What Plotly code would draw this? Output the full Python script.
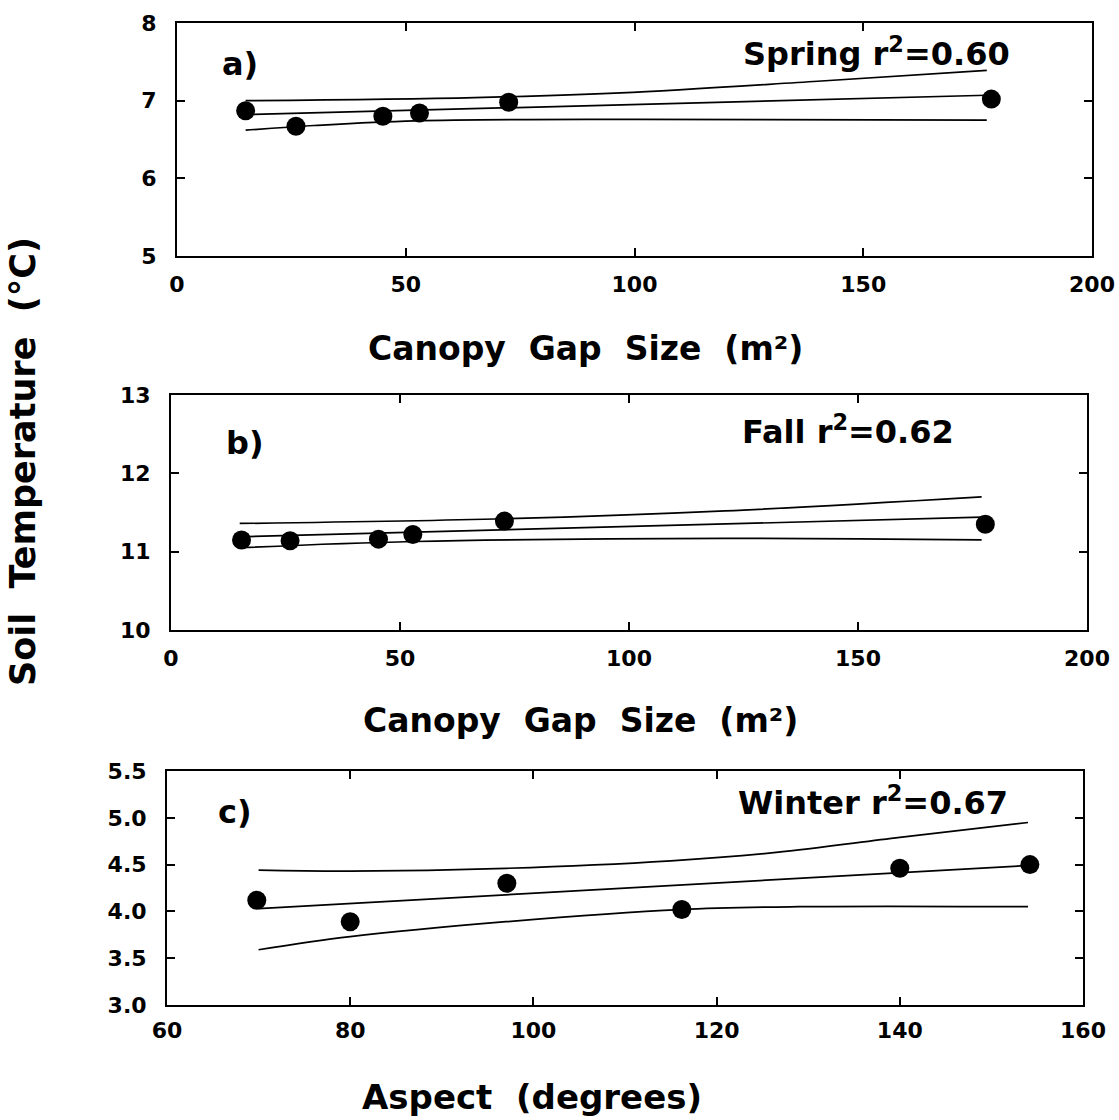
import plotly.graph_objects as go

# ---------------- data ----------------
spring_gap = [15, 26, 45, 53, 72.5, 178]
spring_temp = [6.87, 6.67, 6.80, 6.84, 6.98, 7.02]
spring_fit_x = [15, 177]
spring_fit_y = [6.82, 7.07]
spring_up_x = [15, 65, 97, 140, 177]
spring_up_y = [7.00, 7.04, 7.10, 7.25, 7.39]
spring_lo_x = [15, 30, 52, 100, 177]
spring_lo_y = [6.62, 6.68, 6.74, 6.76, 6.75]

fall_gap = [15.4, 26, 45.3, 52.8, 72.8, 177.8]
fall_temp = [11.15, 11.14, 11.16, 11.22, 11.39, 11.35]
fall_fit_x = [15, 177]
fall_fit_y = [11.19, 11.44]
fall_up_x = [15, 73, 121, 177]
fall_up_y = [11.36, 11.42, 11.52, 11.70]
fall_lo_x = [15, 53, 121, 177]
fall_lo_y = [11.05, 11.13, 11.17, 11.15]

aspect = [69.8, 80, 97.1, 116.2, 140, 154.2]
winter_temp = [4.12, 3.89, 4.30, 4.02, 4.46, 4.50]
winter_fit_x = [70, 154]
winter_fit_y = [4.03, 4.49]
winter_up_x = [70, 80, 97, 115, 126.5, 140, 154]
winter_up_y = [4.44, 4.43, 4.46, 4.54, 4.63, 4.79, 4.95]
winter_lo_x = [70, 80, 97, 116, 129, 154]
winter_lo_y = [3.59, 3.73, 3.89, 4.02, 4.05, 4.05]

gap_ticks = [0, 50, 100, 150, 200]
spring_yticks = [5, 6, 7, 8]
fall_yticks = [10, 11, 12, 13]
aspect_ticks = [60, 80, 100, 120, 140, 160]
winter_yticks = [3.0, 3.5, 4.0, 4.5, 5.0, 5.5]

FONT = "DejaVu Sans"
W, H = 1119, 1120

fig = go.Figure()

def add_panel(xa, ya, px, py, fx, fy, ux, uy, lx, ly):
    for xs, ys, shape in [(fx, fy, "linear"), (ux, uy, "spline"), (lx, ly, "spline")]:
        fig.add_trace(go.Scatter(x=xs, y=ys, mode="lines", xaxis=xa, yaxis=ya,
                                 line=dict(color="black", width=1.7, shape=shape),
                                 showlegend=False, hoverinfo="skip"))
    fig.add_trace(go.Scatter(x=px, y=py, mode="markers", xaxis=xa, yaxis=ya,
                             marker=dict(color="black", size=19),
                             showlegend=False))

add_panel("x", "y", spring_gap, spring_temp, spring_fit_x, spring_fit_y,
          spring_up_x, spring_up_y, spring_lo_x, spring_lo_y)
add_panel("x2", "y2", fall_gap, fall_temp, fall_fit_x, fall_fit_y,
          fall_up_x, fall_up_y, fall_lo_x, fall_lo_y)
add_panel("x3", "y3", aspect, winter_temp, winter_fit_x, winter_fit_y,
          winter_up_x, winter_up_y, winter_lo_x, winter_lo_y)

tickfont = dict(family=FONT, size=22, color="black", weight="bold")

def axis_common(**kw):
    d = dict(showline=True, linecolor="black", linewidth=2, mirror="ticks",
             ticks="inside", ticklen=8, tickwidth=1.5, tickcolor="black",
             showgrid=False, zeroline=False, tickfont=tickfont, automargin=False,
             ticklabeloverflow="allow")
    d.update(kw)
    return d

def px_x(a, b):
    return [a / W, b / W]

def px_y(top, bottom):
    return [1 - bottom / H, 1 - top / H]

fig.update_layout(
    template="none",
    width=W, height=H, autosize=False,
    margin=dict(l=0, r=0, t=0, b=0, pad=0),
    paper_bgcolor="white", plot_bgcolor="white",
    xaxis=axis_common(domain=px_x(177, 1092), range=[0, 200], tickvals=gap_ticks,
                      anchor="y", ticklabelstandoff=8),
    yaxis=axis_common(domain=px_y(23, 256), range=[5, 8], tickvals=spring_yticks,
                      anchor="x", ticklabelstandoff=14),
    xaxis2=axis_common(domain=px_x(171, 1087), range=[0, 200], tickvals=gap_ticks,
                       anchor="y2", ticklabelstandoff=8),
    yaxis2=axis_common(domain=px_y(395, 630), range=[10, 13], tickvals=fall_yticks,
                       anchor="x2", ticklabelstandoff=14),
    xaxis3=axis_common(domain=px_x(167, 1083), range=[60, 160], tickvals=aspect_ticks,
                       anchor="y3", ticklabelstandoff=5),
    yaxis3=axis_common(domain=px_y(771, 1005), range=[3.0, 5.5], tickvals=winter_yticks,
                       tickformat=".1f", anchor="x3", ticklabelstandoff=14),
)

big = dict(family=FONT, size=32, color="black", weight="bold")
ann = []
def add_ann(**kw):
    d = dict(showarrow=False, xanchor="center", yanchor="middle")
    d.update(kw)
    ann.append(d)

add_ann(text="a)", x=13.7, y=7.47, xref="x", yref="y", font=big)
add_ann(text="Spring r<sup>2</sup>=0.60", x=182.5, y=7.63, xref="x", yref="y",
        xanchor="right", font=big)
add_ann(text="b)", x=16.2, y=12.39, xref="x2", yref="y2", font=big)
add_ann(text="Fall r<sup>2</sup>=0.62", x=171.3, y=12.55, xref="x2", yref="y2",
        xanchor="right", font=big)
add_ann(text="c)", x=67.4, y=5.06, xref="x3", yref="y3", font=big)
add_ann(text="Winter r<sup>2</sup>=0.67", x=152, y=5.18, xref="x3", yref="y3",
        xanchor="right", font=big)

sp = "\u00a0"
gap_title = f"Canopy{sp}{sp}Gap{sp}{sp}Size{sp}{sp}(m\u00b2)"
gap_font = dict(family=FONT, size=33, color="black", weight="bold")
add_ann(text=gap_title, x=585 / W, y=1 - 348 / H, xref="paper", yref="paper", font=gap_font)
add_ann(text=gap_title, x=580 / W, y=1 - 720 / H, xref="paper", yref="paper", font=gap_font)
add_ann(text=f"Aspect{sp}{sp}(degrees)", x=532 / W, y=1 - 1097 / H,
        xref="paper", yref="paper", font=dict(family=FONT, size=34, color="black", weight="bold"))
add_ann(text=f"Soil{sp}{sp}Temperature{sp}{sp}(\u00b0C)", x=23 / W, y=1 - 462 / H,
        xref="paper", yref="paper", textangle=-90,
        font=dict(family=FONT, size=35, color="black", weight="bold"))
fig.update_layout(annotations=ann)

fig.write_html("out.html")
